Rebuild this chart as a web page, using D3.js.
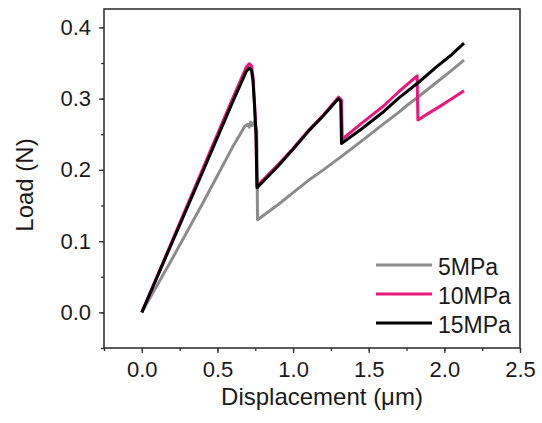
<!DOCTYPE html>
<html lang="en">
<head>
  <meta charset="UTF-8">
  <title>Load vs Displacement</title>
  <script src="https://d3js.org/d3.v7.min.js"></script>
  <style>
    body {
      margin: 0;
      background: #fff;
      font-family: "Liberation Sans", Arial, sans-serif;
    }
    .tick text { font-size: 22px; fill: #1a1a1a; }
    .axis-title { font-size: 24px; fill: #1a1a1a; }
    .legend text { font-size: 23px; fill: #1a1a1a; }
  </style>
</head>
<body>
  <svg width="542" height="423"></svg>

  <script>
    // displacement (um) / load (N)
    const series = [
      {
        name: "5MPa", color: "#8c8c8c",
        points: [[0, 0], [0.2, 0.075], [0.4, 0.152], [0.6, 0.232], [0.68, 0.261], [0.7, 0.264],
                 [0.71, 0.26], [0.72, 0.267], [0.73, 0.262], [0.745, 0.268], [0.76, 0.255],
                 [0.765, 0.13], [0.9, 0.151], [1.0, 0.168], [1.1, 0.185], [1.2, 0.2], [1.32, 0.219],
                 [1.45, 0.24], [1.6, 0.265], [1.7, 0.281], [1.75, 0.29], [1.83, 0.303], [1.95, 0.323],
                 [2.05, 0.34], [2.13, 0.354]]
      },
      {
        name: "10MPa", color: "#e8197d",
        points: [[0, 0], [0.2, 0.1], [0.4, 0.2], [0.6, 0.3], [0.69, 0.344], [0.71, 0.349],
                 [0.725, 0.346], [0.735, 0.33], [0.745, 0.295], [0.755, 0.25], [0.76, 0.177],
                 [0.9, 0.207], [1.0, 0.23], [1.1, 0.255], [1.2, 0.277], [1.3, 0.302], [1.32, 0.298],
                 [1.325, 0.243], [1.45, 0.265], [1.6, 0.29], [1.7, 0.31], [1.82, 0.332], [1.825, 0.27],
                 [1.9, 0.28], [2.0, 0.293], [2.13, 0.311]]
      },
      {
        name: "15MPa", color: "#000000",
        points: [[0, 0], [0.2, 0.098], [0.4, 0.196], [0.6, 0.295], [0.69, 0.338], [0.71, 0.343],
                 [0.725, 0.34], [0.735, 0.325], [0.745, 0.29], [0.755, 0.25], [0.762, 0.175],
                 [0.9, 0.205], [1.0, 0.229], [1.1, 0.254], [1.2, 0.276], [1.3, 0.3], [1.315, 0.296],
                 [1.32, 0.237], [1.45, 0.257], [1.6, 0.282], [1.7, 0.301], [1.83, 0.323], [1.95, 0.345],
                 [2.05, 0.362], [2.13, 0.378]]
      }
    ];

    const xTicks = [0, 0.5, 1.0, 1.5, 2.0, 2.5];
    const yTicks = [0, 0.1, 0.2, 0.3, 0.4];

    const svg = d3.select("svg");
    const plotLeft = 104, plotRight = 520, plotTop = 9, plotBottom = 348;

    const x = d3.scaleLinear().domain([-0.25, 2.5]).range([plotLeft, plotRight]);
    const y = d3.scaleLinear().domain([-0.05, 0.4258]).range([plotBottom, plotTop]);

    // minor ticks
    svg.append("g")
      .attr("transform", `translate(0,${plotBottom})`)
      .call(d3.axisBottom(x).tickValues(d3.range(-0.25, 2.51, 0.25)).tickSize(3).tickFormat(""))
      .call(g => g.select(".domain").remove())
      .selectAll("line").attr("stroke", "#333").attr("stroke-width", 1.3);

    svg.append("g")
      .attr("transform", `translate(${plotLeft},0)`)
      .call(d3.axisLeft(y).tickValues(d3.range(-0.05, 0.42, 0.05)).tickSize(3).tickFormat(""))
      .call(g => g.select(".domain").remove())
      .selectAll("line").attr("stroke", "#333").attr("stroke-width", 1.3);

    // major ticks
    const xAxis = svg.append("g")
      .attr("transform", `translate(0,${plotBottom})`)
      .call(d3.axisBottom(x).tickValues(xTicks).tickSize(5).tickPadding(8).tickFormat(d3.format(".1f")));
    xAxis.select(".domain").remove();
    xAxis.selectAll("line").attr("stroke", "#333").attr("stroke-width", 1.3);

    const yAxis = svg.append("g")
      .attr("transform", `translate(${plotLeft},0)`)
      .call(d3.axisLeft(y).tickValues(yTicks).tickSize(5).tickPadding(8).tickFormat(d3.format(".1f")));
    yAxis.select(".domain").remove();
    yAxis.selectAll("line").attr("stroke", "#333").attr("stroke-width", 1.3);

    svg.selectAll("g").attr("font-family", null).attr("font-size", null);

    // frame
    svg.append("rect")
      .attr("x", plotLeft).attr("y", plotTop)
      .attr("width", plotRight - plotLeft).attr("height", plotBottom - plotTop)
      .attr("fill", "none").attr("stroke", "#333").attr("stroke-width", 1.6);

    const line = d3.line().x(d => x(d[0])).y(d => y(d[1]));

    svg.append("g")
      .selectAll("path")
      .data(series)
      .enter().append("path")
      .attr("d", d => line(d.points))
      .attr("fill", "none")
      .attr("stroke", d => d.color)
      .attr("stroke-width", 3)
      .attr("stroke-linejoin", "round");

    // axis titles
    svg.append("text")
      .attr("class", "axis-title")
      .attr("x", (plotLeft + plotRight) / 2 + 10).attr("y", 405)
      .attr("text-anchor", "middle")
      .text("Displacement (\u03bcm)");

    svg.append("text")
      .attr("class", "axis-title")
      .attr("transform", "translate(33,185) rotate(-90)")
      .attr("text-anchor", "middle")
      .text("Load (N)");

    // legend
    const legend = svg.append("g").attr("class", "legend");
    const item = legend.selectAll("g")
      .data(series)
      .enter().append("g")
      .attr("transform", (d, i) => `translate(376,${265 + i * 29})`);
    item.append("line")
      .attr("x1", 0).attr("x2", 56)
      .attr("stroke", d => d.color)
      .attr("stroke-width", 3);
    item.append("text")
      .attr("x", 62).attr("y", 10)
      .text(d => d.name);
  </script>
</body>
</html>
